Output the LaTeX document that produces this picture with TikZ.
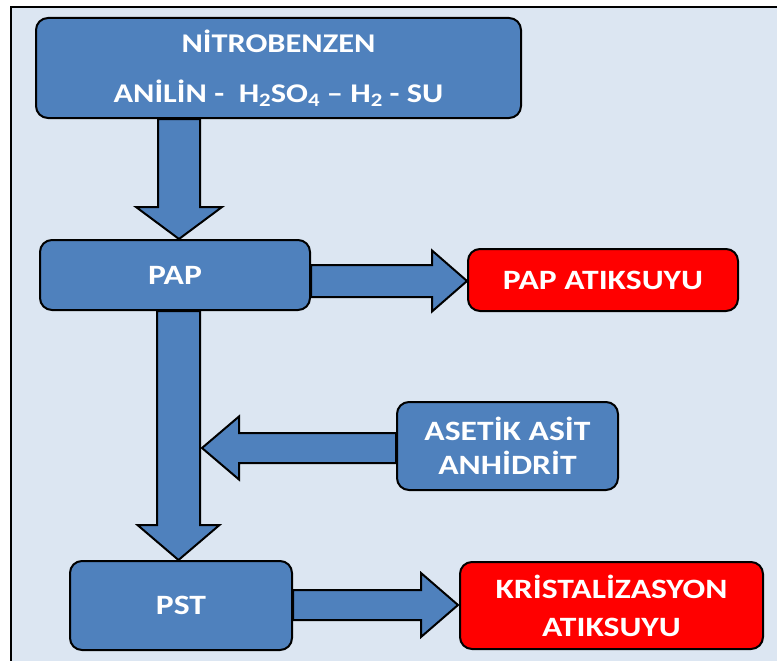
\documentclass[tikz,border=0pt]{standalone}
\usepackage{fontspec}
\setmainfont[FakeStretch=1.2]{Carlito}
\usetikzlibrary{calc}
\definecolor{bgblue}{HTML}{DCE6F2}
\definecolor{boxblue}{HTML}{4F81BD}
\definecolor{boxred}{HTML}{FF0000}
\pgfdeclarelayer{bg}
\pgfdeclarelayer{arr}
\pgfsetlayers{bg,arr,main}
\tikzset{
  bluebox/.style={draw=black, line width=2pt, fill=boxblue, rounded corners=12pt,
    text=white, font=\bfseries\fontsize{28}{34}\selectfont, align=center, inner sep=0pt},
  redbox/.style={bluebox, fill=boxred},
  blkarrow/.style={draw=black, line width=2pt, fill=boxblue, line join=miter}
}
\newcommand\sbs[1]{\raisebox{-4pt}{\fontsize{19}{19}\selectfont #1}}
% vertical block arrow: base, tip, shaft half, head half, signed head offset
\newcommand\blkvert[5]{%
  \draw[blkarrow] ($(#1)+(-#3,0)$) -- ($(#2)+(-#3,#5)$) -- ($(#2)+(-#4,#5)$) -- (#2)
    -- ($(#2)+(#4,#5)$) -- ($(#2)+(#3,#5)$) -- ($(#1)+(#3,0)$) -- cycle;}
% horizontal block arrow
\newcommand\blkhoriz[5]{%
  \draw[blkarrow] ($(#1)+(0,-#3)$) -- ($(#2)+(#5,-#3)$) -- ($(#2)+(#5,-#4)$) -- (#2)
    -- ($(#2)+(#5,#4)$) -- ($(#2)+(#5,#3)$) -- ($(#1)+(0,#3)$) -- cycle;}
\begin{document}
\begin{tikzpicture}[x=1pt,y=-1pt]
\useasboundingbox (0,0) rectangle (777,661);
\begin{pgfonlayer}{bg}
  \fill[white] (0,0) rectangle (777,661);
  \draw[line width=2.5pt, fill=bgblue] (11,7) rectangle (820,720);
\end{pgfonlayer}

\node[bluebox, minimum width=485pt, minimum height=100pt,
      font=\bfseries\fontsize{27}{33}\selectfont] (top) at (278.5,68)
  {NİTROBENZEN\\[17pt]ANİLİN -\ \ H\sbs{2}SO\sbs{4} – H\sbs{2} - SU};
\node[bluebox, minimum width=270pt, minimum height=70pt] (pap) at (175,275) {PAP};
\node[redbox, minimum width=270pt, minimum height=62pt] (papw) at (603,280) {PAP ATIKSUYU};
\node[bluebox, minimum width=221pt, minimum height=88pt] (ase) at (507.5,446)
  {ASETİK ASİT\\ANHİDRİT};
\node[bluebox, minimum width=222pt, minimum height=89pt] (pst) at (181,605.5) {PST};
\node[redbox, minimum width=303pt, minimum height=87pt] (kri) at (611.5,605.5)
  {KRİSTALİZASYON\\[4pt]ATIKSUYU};

\coordinate (c1) at (179,0);
\coordinate (c2) at (178.5,0);
\coordinate (r1) at (0,281);
\coordinate (r2) at (0,448);
\coordinate (r3) at (0,605);
\coordinate (t2) at (202,448);
\coordinate (t3) at (458,605);

\begin{pgfonlayer}{arr}
  \blkvert{top.south -| c1}{pap.north -| c1}{21}{43}{-32}
  \blkvert{pap.south -| c2}{pst.north -| c2}{21.5}{41}{-35}
  \blkhoriz{pap.east |- r1}{papw.west |- r1}{16}{30.5}{-35}
  \blkhoriz{ase.west |- r2}{t2}{15}{31.5}{37}
  \blkhoriz{pst.east |- r3}{t3}{15}{32}{-37}
\end{pgfonlayer}
\end{tikzpicture}
\end{document}
